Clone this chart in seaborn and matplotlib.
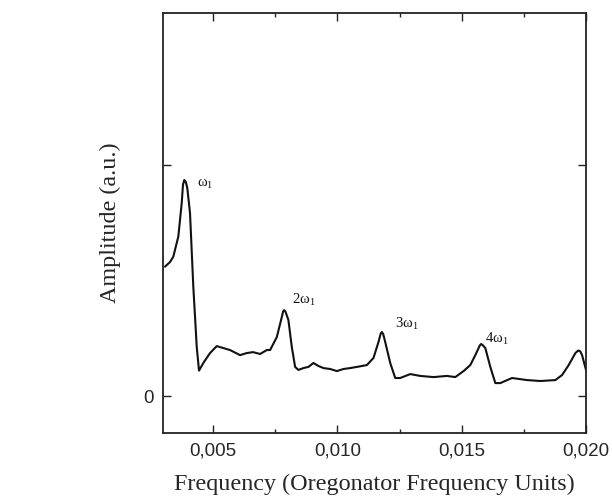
import numpy as np
import pandas as pd
import matplotlib
matplotlib.use("Agg")
import matplotlib.pyplot as plt
import seaborn as sns
from matplotlib.ticker import MultipleLocator

sns.set_theme(style="ticks")
plt.rcParams['font.family'] = ['Liberation Serif', 'DejaVu Serif']
plt.rcParams['mathtext.fontset'] = 'custom'
plt.rcParams['mathtext.rm'] = 'Liberation Serif'
plt.rcParams['mathtext.it'] = 'Liberation Serif'

# Spectrum (frequency, amplitude in arbitrary units; 1 = upper unlabelled tick)
frequency = [0.003068, 0.003270, 0.003403, 0.003604, 0.003741, 0.003793, 0.003845, 0.003902,
             0.003966, 0.004075, 0.004208, 0.004345, 0.004437, 0.004610, 0.004880, 0.005150,
             0.005403, 0.005685, 0.006088, 0.006358, 0.006611, 0.006893, 0.007163, 0.007296,
             0.007565, 0.007767, 0.007819, 0.007859, 0.007912, 0.008032, 0.008169, 0.008302,
             0.008435, 0.008636, 0.008837, 0.009039, 0.009240, 0.009441, 0.009711, 0.009981,
             0.010246, 0.010516, 0.010786, 0.011189, 0.011454, 0.011655, 0.011744, 0.011792,
             0.011845, 0.011925, 0.012127, 0.012328, 0.012529, 0.012932, 0.013334, 0.013870,
             0.014409, 0.014743, 0.015077, 0.015347, 0.015548, 0.015730, 0.015778, 0.015830,
             0.015951, 0.016152, 0.016354, 0.016555, 0.017026, 0.017630, 0.018165, 0.018769,
             0.019039, 0.019304, 0.019574, 0.019675, 0.019707, 0.019776, 0.019843, 0.020000]
amplitude = [0.560, 0.580, 0.603, 0.690, 0.835, 0.915, 0.935, 0.928,
             0.900, 0.792, 0.473, 0.213, 0.110, 0.143, 0.186, 0.216,
             0.208, 0.199, 0.177, 0.186, 0.190, 0.182, 0.199, 0.199,
             0.255, 0.342, 0.366, 0.372, 0.366, 0.329, 0.212, 0.126,
             0.113, 0.121, 0.126, 0.143, 0.130, 0.121, 0.117, 0.108,
             0.117, 0.121, 0.126, 0.134, 0.165, 0.234, 0.270, 0.277,
             0.268, 0.234, 0.143, 0.078, 0.078, 0.095, 0.087, 0.082,
             0.087, 0.082, 0.108, 0.134, 0.177, 0.219, 0.225, 0.222,
             0.208, 0.126, 0.056, 0.056, 0.078, 0.069, 0.065, 0.069,
             0.091, 0.134, 0.186, 0.196, 0.197, 0.192, 0.177, 0.113]

df = pd.DataFrame({"frequency": frequency, "amplitude": amplitude})

peak_labels = [r"$\mathrm{ω_1}$", r"$\mathrm{2ω_1}$", r"$\mathrm{3ω_1}$", r"$\mathrm{4ω_1}$"]
label_x = [0.004345, 0.008169, 0.012328, 0.015951]
label_y = [0.918, 0.416, 0.312, 0.247]

fig = plt.figure(figsize=(6.12, 4.97), dpi=100)
ax = fig.add_axes([0.2668, 0.1288, 0.9575 - 0.2668, 0.9738 - 0.1288])

sns.lineplot(data=df, x="frequency", y="amplitude", ax=ax, color="#111111",
             linewidth=1.5, sort=False, estimator=None)
ax.lines[0].set_solid_joinstyle("round")

ax.set_xlim(0.003, 0.020)
ax.set_ylim(-0.16, 1.658)
ax.xaxis.set_minor_locator(MultipleLocator(0.0025))
ax.set_xticks([0.005, 0.010, 0.015, 0.020])
ax.set_xticklabels(["0,005", "0,010", "0,015", "0,020"],
                   fontfamily=["Liberation Sans", "DejaVu Sans"], fontsize=13.5)
ax.set_yticks([0, 1])
ax.set_yticklabels(["0", ""], fontfamily=["Liberation Sans", "DejaVu Sans"], fontsize=13.5)

ax.tick_params(axis="both", which="both", direction="in", top=True, right=True,
               color="#222222", width=1.0)
ax.tick_params(axis="both", which="major", length=6, pad=7)
ax.tick_params(axis="x", which="minor", length=3)
for s in ax.spines.values():
    s.set_visible(True)
    s.set_linewidth(1.3)
    s.set_color("#222222")

ax.set_xlabel("Frequency (Oregonator Frequency Units)", fontsize=17.4, labelpad=10)
ax.set_ylabel("Amplitude (a.u.)", fontsize=17.4, labelpad=16)

for t, xx, yy in zip(peak_labels, label_x, label_y):
    ax.text(xx, yy, t, fontsize=10.5, ha="left", va="center", color="#111111")

fig.savefig("out.png", dpi=100)
